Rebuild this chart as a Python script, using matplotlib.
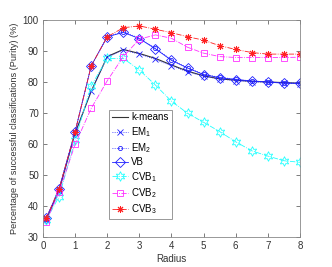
import matplotlib
matplotlib.use("Agg")
import matplotlib.pyplot as plt

plt.rcParams['font.family'] = ['Liberation Sans', 'DejaVu Sans']
plt.rcParams['mathtext.fontset'] = 'custom'
plt.rcParams['mathtext.rm'] = 'Liberation Sans'
plt.rcParams['mathtext.it'] = 'Liberation Sans'

radius = [0.1, 0.5, 1, 1.5, 2, 2.5, 3, 3.5, 4, 4.5, 5, 5.5, 6, 6.5, 7, 7.5, 8]
kmeans = [35.5, 45.0, 63.5, 77.0, 88.2, 90.5, 89.2, 87.6, 85.5, 83.5, 82.0, 81.0, 80.6, 80.2, 80.0, 79.8, 79.6]
em1 = [35.5, 45.0, 63.5, 77.1, 88.0, 90.3, 89.0, 87.3, 85.2, 83.3, 81.8, 81.0, 80.4, 80.1, 79.9, 79.7, 79.5]
em2 = [36.0, 45.5, 64.0, 85.2, 94.6, 96.2, 94.1, 90.9, 87.1, 84.6, 82.5, 81.5, 80.9, 80.3, 80.1, 79.7, 79.6]
vb = [36.0, 45.5, 64.0, 85.2, 94.6, 96.0, 94.0, 90.7, 87.0, 84.5, 82.4, 81.4, 80.8, 80.3, 80.0, 79.6, 79.6]
cvb1 = [35.5, 43.0, 61.3, 78.8, 87.6, 87.6, 83.9, 79.0, 73.8, 69.9, 67.0, 64.0, 60.7, 57.8, 56.1, 54.6, 54.1]
cvb2 = [35.0, 44.5, 59.9, 71.5, 80.4, 88.2, 93.8, 95.2, 94.1, 91.2, 89.3, 88.2, 87.9, 87.9, 87.9, 87.9, 88.0]
cvb3 = [36.0, 45.5, 64.0, 85.2, 94.6, 97.5, 98.1, 97.0, 95.9, 94.6, 93.5, 91.7, 90.5, 89.5, 89.0, 89.0, 89.0]

labels = ['k-means', r'EM$_1$', r'EM$_2$', 'VB', r'CVB$_1$', r'CVB$_2$', r'CVB$_3$']
xticks = [0, 1, 2, 3, 4, 5, 6, 7, 8]
yticks = [30, 40, 50, 60, 70, 80, 90, 100]

fig = plt.figure(figsize=(3.32, 2.67), dpi=100)
ax = fig.add_axes([43/332, 1 - 237/267, 257/332, 217/267])

lw = 0.6
mw = 0.6
ax.plot(radius, kmeans, '-', color='#333333', lw=0.8, label=labels[0])
ax.plot(radius, em1, ':', color='#2020ff', lw=lw, marker='x', ms=5, mew=mw, label=labels[1])
ax.plot(radius, em2, ':', color='#2020ff', lw=lw, marker='o', ms=3, mew=mw, mfc='none', label=labels[2])
ax.plot(radius, vb, '-', color='#2020ff', lw=lw, marker='D', ms=5.5, mew=mw, mfc='none', label=labels[3])
ax.plot(radius, cvb1, '-.', color='#20ffff', lw=lw, marker=(6, 1, 0), ms=7, mew=mw, mfc='none', label=labels[4])
ax.plot(radius, cvb2, '-.', color='#ff30ff', lw=lw, marker='s', ms=5, mew=mw, mfc='none', label=labels[5])
ax.plot(radius, cvb3, '-.', color='#ff2020', lw=lw, marker=(8, 2, 0), ms=5, mew=0.7, label=labels[6])

ax.set_xlim(0, 8)
ax.set_ylim(30, 100)
ax.set_xticks(xticks)
ax.set_yticks(yticks)
ax.tick_params(direction='in', top=True, right=True, labelsize=7, length=3,
               color='#666666', labelcolor='#333333', width=0.6, pad=3)
for s in ax.spines.values():
    s.set_color('#888888')
    s.set_linewidth(0.6)

ax.set_xlabel('Radius', fontsize=7, color='#333333', labelpad=2)
ax.set_ylabel('Percentage of successful classifications (Purity) (%)', fontsize=6.6, color='#333333', labelpad=3)

leg = ax.legend(loc='lower left', bbox_to_anchor=(0.257, 0.083), fontsize=7,
                frameon=True, fancybox=False, edgecolor='#888888', framealpha=1,
                handlelength=1.7, handletextpad=0.3, borderpad=0.3, labelspacing=0.25,
                borderaxespad=0)
leg.get_frame().set_linewidth(0.6)

fig.savefig('out.png', dpi=100)
